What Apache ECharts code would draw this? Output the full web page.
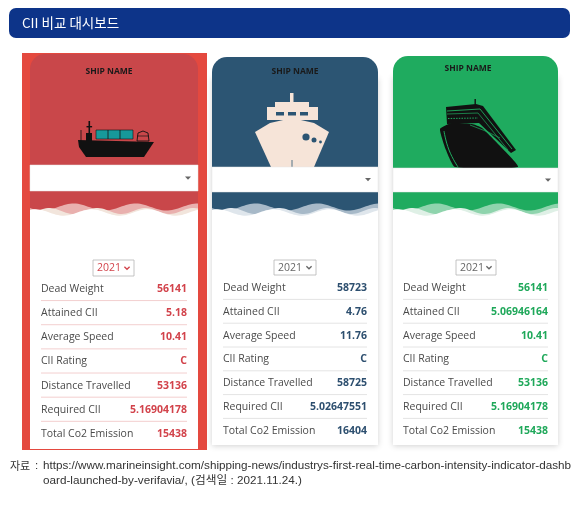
<!DOCTYPE html>
<html><head><meta charset="utf-8">
<script src="https://cdn.jsdelivr.net/npm/echarts@6/dist/echarts.min.js"></script>
<style>html,body{margin:0;padding:0;background:#fff}#c{width:579px;height:507px}</style>
</head><body><div id="c"></div>
<script>
// ---- data ----
const titleText = 'CII 비교 대시보드';
const shipLabel = 'SHIP NAME';
const metrics = ['Dead Weight','Attained CII','Average Speed','CII Rating','Distance Travelled','Required CII','Total Co2 Emission'];
const shipA = ['56141','5.18','10.41','C','53136','5.16904178','15438'];
const shipB = ['58723','4.76','11.76','C','58725','5.02647551','16404'];
const shipC = ['56141','5.06946164','10.41','C','53136','5.16904178','15438'];
const years = ['2021','2021','2021'];
const sourcePrefix = '자료';
const sourceLines = ['https://www.marineinsight.com/shipping-news/industrys-first-real-time-carbon-intensity-indicator-dashb',
                     'oard-launched-by-verifavia/, (검색일 : 2021.11.24.)'];

// ---- layout / style ----
const cards = [
  {x0:30,x1:198,top:54,band:191,panelBot:449,frame:true,color:'#c9474a',val:'#d2434b',sep:'#f3cfcf',
   wave1:'#e9b0ae',wave2:'#f2e5dc',lx:41,rx:187,row0:289,step:24.15,yearBox:[93,260,41,16],yearColor:'#d2434b',dd:[165,191],name:[109,72],values:shipA,year:years[0]},
  {x0:212,x1:378,top:57,band:192,panelBot:445,frame:false,color:'#2c5573',val:'#2d4f6f',sep:'#e4e4e4',
   wave1:'#a7b9c8',wave2:'#dfe6ec',lx:223,rx:367,row0:288,step:23.8,yearBox:[274,260,42,15],yearColor:'#666',dd:[167,192],name:[295,72],values:shipB,year:years[1]},
  {x0:393,x1:558,top:56,band:192,panelBot:445,frame:false,color:'#1fab5f',val:'#1fa85a',sep:'#e4e4e4',
   wave1:'#8fd4ad',wave2:'#dff0e6',lx:403,rx:548,row0:288,step:23.8,yearBox:[456,260,40,15],yearColor:'#666',dd:[168,192],name:[468,69],values:shipC,year:years[2]}
];
const FONT = '"Open Sans","Noto Sans",sans-serif';

function wavePts(x0,x1,base,amp,period,phase,bottom){
  const pts=[];
  for(let x=x0;x<=x1;x+=2){pts.push([x, base+amp*Math.sin((x-x0)/period*2*Math.PI+phase)]);}
  pts.push([x1, base+amp*Math.sin((x1-x0)/period*2*Math.PI+phase)]);
  pts.push([x1,bottom]);pts.push([x0,bottom]);
  return pts;
}

const g = [];
// header
g.push({type:'rect',shape:{x:9,y:8,width:561,height:30,r:7},style:{fill:'#0d3489'}});
g.push({type:'text',style:{text:titleText,x:22,y:23,fill:'#fff',font:'13.5px "Noto Sans CJK KR",sans-serif',textVerticalAlign:'middle'}});

cards.forEach((c,i)=>{
  const w=c.x1-c.x0;
  if(c.frame){
    g.push({type:'rect',shape:{x:22,y:53,width:185,height:397},style:{fill:'#e4493f'}});
  } else {
    g.push({type:'rect',shape:{x:c.x0,y:c.top+20,width:w,height:c.panelBot-c.top-20},style:{fill:'#fff',shadowBlur:6,shadowColor:'rgba(0,0,0,0.18)',shadowOffsetY:1}});
  }
  g.push({type:'rect',shape:{x:c.x0,y:200,width:w,height:c.panelBot-200},style:{fill:'#fff'}});
  g.push({type:'rect',shape:{x:c.x0,y:c.top,width:w,height:222-c.top,r:[15,15,0,0]},style:{fill:c.color}});
  g.push({type:'polygon',shape:{points:wavePts(c.x0,c.x1,207,3.5,62,0.3,224)},style:{fill:c.wave1}});
  g.push({type:'polygon',shape:{points:wavePts(c.x0,c.x1,211,3,48,2.2,224)},style:{fill:c.wave2}});
  g.push({type:'polygon',shape:{points:wavePts(c.x0,c.x1,212.5,3.2,56,4.1,226)},style:{fill:'#fff'}});
  g.push({type:'text',style:{text:shipLabel,x:c.name[0],y:c.name[1],fill:'#1a1a1a',font:'bold 8.5px '+FONT,textAlign:'center',textVerticalAlign:'middle'}});
});

// ---- ship icons (decorative) ----
// red: container ship side view
g.push({type:'polygon',shape:{points:[[78,140],[154,142],[144,157],[86,157],[79,147]]},style:{fill:'#111'}});
g.push({type:'rect',shape:{x:96,y:130,width:37,height:9},style:{fill:'#17999a',stroke:'#111',lineWidth:0.6}});
g.push({type:'line',shape:{x1:108,y1:130,x2:108,y2:139},style:{stroke:'#111',lineWidth:0.8}});
g.push({type:'line',shape:{x1:120,y1:130,x2:120,y2:139},style:{stroke:'#111',lineWidth:0.8}});
g.push({type:'rect',shape:{x:86,y:133,width:6,height:8},style:{fill:'#111'}});
g.push({type:'rect',shape:{x:88.5,y:121,width:1.6,height:13},style:{fill:'#111'}});
g.push({type:'rect',shape:{x:86.5,y:126,width:5.6,height:1.4},style:{fill:'#111'}});
g.push({type:'line',shape:{x1:81,y1:130,x2:81,y2:141},style:{stroke:'#111',lineWidth:0.8}});
g.push({type:'polygon',shape:{points:[[137,141],[138,133],[143,131],[148,133],[149,141]]},style:{fill:'none',stroke:'#111',lineWidth:0.9}});
g.push({type:'line',shape:{x1:137,y1:136,x2:149,y2:136},style:{stroke:'#111',lineWidth:0.7}});
// blue: front view
const cream='#f6e4d8';
g.push({type:'rect',shape:{x:290,y:93,width:3.5,height:10},style:{fill:cream}});
g.push({type:'rect',shape:{x:275,y:102,width:34,height:6},style:{fill:cream}});
g.push({type:'rect',shape:{x:267,y:107,width:51,height:13},style:{fill:cream}});
[276,288,300].forEach(x=>g.push({type:'rect',shape:{x:x,y:112,width:8,height:3.5},style:{fill:'#2c5573'}}));
g.push({type:'polygon',shape:{points:[[255,132],[270,123],[292,118],[314,123],[329,132],[314,167],[271,167]]},style:{fill:cream}});
g.push({type:'circle',shape:{cx:306,cy:137,r:3.6},style:{fill:'#2c5573'}});
g.push({type:'circle',shape:{cx:314,cy:140,r:2.5},style:{fill:'#2c5573'}});
g.push({type:'circle',shape:{cx:320.5,cy:142,r:1.4},style:{fill:'#2c5573'}});
g.push({type:'line',shape:{x1:292,y1:160,x2:292,y2:167},style:{stroke:'#2c5573',lineWidth:0.8}});
// green: angled bow view
g.push({type:'rect',shape:{x:474.5,y:99,width:1.4,height:8},style:{fill:'#111'}});
g.push({type:'polygon',shape:{points:[[446,107],[476,104],[483,106],[516,150],[511,153],[479,123],[447,124]]},style:{fill:'#111'}});
g.push({type:'polyline',shape:{points:[[447,111],[480,109],[512,149]]},style:{stroke:'#1fab5f',lineWidth:0.9,fill:'none'}});
g.push({type:'polyline',shape:{points:[[447,114],[478,113],[508,150]]},style:{stroke:'#1fab5f',lineWidth:0.7,fill:'none'}});
g.push({type:'line',shape:{x1:448,y1:118.5,x2:478,y2:118},style:{stroke:'#1fab5f',lineWidth:1,lineDash:[1.5,1.2]}});
g.push({type:'polygon',shape:{points:[[440,129],[452,123],[472,124],[482,128],[500,146],[518,167],[455,167],[446,150]],smooth:0.15},style:{fill:'#111'}});
g.push({type:'polyline',shape:{points:[[444,131],[449,150],[458,167]],smooth:0.5},style:{stroke:'#1fab5f',lineWidth:1,fill:'none'}});
g.push({type:'polyline',shape:{points:[[470,125],[488,132],[500,138]]},style:{stroke:'#1fab5f',lineWidth:0.7,fill:'none'}});

cards.forEach((c,i)=>{
  const w=c.x1-c.x0;
  g.push({type:'rect',shape:{x:c.x0,y:c.dd[0],width:w,height:c.dd[1]-c.dd[0]},style:{fill:'#fff',stroke:'#e6e6e6',lineWidth:0.5}});
  const ax=c.x1-10, ay=(c.dd[0]+c.dd[1])/2;
  g.push({type:'polygon',shape:{points:[[ax-3,ay-1.5],[ax+3,ay-1.5],[ax,ay+1.8]]},style:{fill:'#666'}});
  const yb=c.yearBox;
  g.push({type:'rect',shape:{x:yb[0],y:yb[1],width:yb[2],height:yb[3]},style:{fill:'#fff',stroke:'#b5b5b5',lineWidth:0.8}});
  g.push({type:'text',style:{text:c.year,x:yb[0]+4,y:yb[1]+yb[3]/2+0.5,fill:c.yearColor,font:'10.5px '+FONT,textVerticalAlign:'middle'}});
  const cx=yb[0]+yb[2]-7, cy=yb[1]+yb[3]/2;
  g.push({type:'polyline',shape:{points:[[cx-2.6,cy-1.3],[cx,cy+1.3],[cx+2.6,cy-1.3]]},style:{stroke:c.yearColor,lineWidth:1.3,fill:'none'}});
  metrics.forEach((m,k)=>{
    const y=c.row0+k*c.step;
    g.push({type:'text',style:{text:m,x:c.lx,y:y,fill:'#4a4a4a',font:'10.5px '+FONT,textVerticalAlign:'middle'}});
    g.push({type:'text',style:{text:c.values[k],x:c.rx,y:y,fill:c.val,font:'bold 10.5px '+FONT,textAlign:'right',textVerticalAlign:'middle'}});
    if(k<metrics.length-1){
      const sy=y+c.step/2-0.5;
      g.push({type:'line',shape:{x1:c.lx,y1:sy,x2:c.rx,y2:sy},style:{stroke:c.sep,lineWidth:1}});
    }
  });
});

// source
const SF='"Liberation Sans","Noto Sans CJK KR",sans-serif';
g.push({type:'text',style:{text:sourcePrefix,x:10,y:466,fill:'#333',font:'11px "Noto Sans CJK KR",sans-serif',textVerticalAlign:'middle'}});
g.push({type:'text',style:{text:':',x:35,y:466,fill:'#333',font:'11.5px '+SF,textVerticalAlign:'middle'}});
g.push({type:'text',style:{text:sourceLines[0],x:43,y:466,fill:'#333',font:'11.7px '+SF,textVerticalAlign:'middle'}});
g.push({type:'text',style:{text:sourceLines[1],x:43,y:481,fill:'#333',font:'11.7px '+SF,textVerticalAlign:'middle'}});

const chart = echarts.init(document.getElementById('c'),null,{renderer:'canvas'});
chart.setOption({backgroundColor:'#fff',animation:false,graphic:{elements:g}});
</script></body></html>
